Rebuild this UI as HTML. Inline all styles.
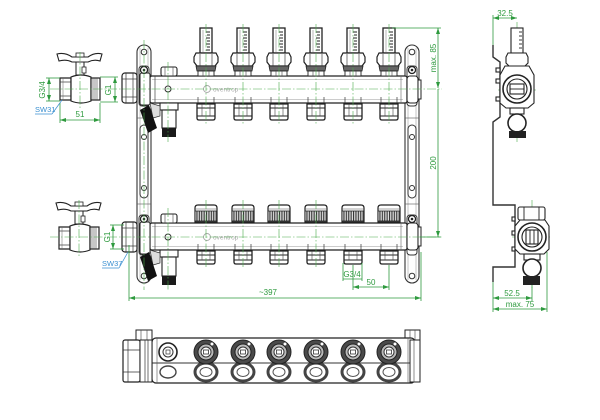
<!DOCTYPE html>
<html><head><meta charset="utf-8"><style>
html,body{margin:0;padding:0;background:#fff;}
svg{display:block;}
text{font-family:"Liberation Sans",sans-serif;}
</style></head><body>
<svg width="600" height="420" viewBox="0 0 600 420" xmlns="http://www.w3.org/2000/svg">
<defs>
<marker id="ar" viewBox="0 0 6 4" refX="6" refY="2" markerWidth="6" markerHeight="4" markerUnits="userSpaceOnUse" orient="auto-start-reverse"><path d="M0,0 L6,2 L0,4 Z" fill="#2e9a3e"/></marker>
<pattern id="kn" width="2.4" height="20" patternUnits="userSpaceOnUse"><rect width="2.4" height="20" fill="#ddd"/><rect width="1.1" height="20" fill="#333"/></pattern>
<g id="fm">
 <rect x="-6" y="28" width="12" height="25" fill="#fff" stroke="#222" stroke-width="1.3"/>
 <g stroke="#222" stroke-width="1"><line x1="0" y1="32" x2="4" y2="32"/><line x1="1" y1="35" x2="4" y2="35"/><line x1="0" y1="38" x2="4" y2="38"/><line x1="1" y1="41" x2="4" y2="41"/><line x1="0" y1="44" x2="4" y2="44"/><line x1="1" y1="47" x2="4" y2="47"/><line x1="0" y1="50" x2="4" y2="50"/></g>
 <line x1="-3" y1="30" x2="-3" y2="52" stroke="#888" stroke-width="0.6"/>
 <path d="M-12,57 L-10,53 L10,53 L12,57 L12,62 L9,66 L-9,66 L-12,62 Z" fill="#fff" stroke="#222" stroke-width="1.2"/>
 <line x1="-6" y1="54" x2="-6" y2="66" stroke="#444" stroke-width="0.7"/><line x1="6" y1="54" x2="6" y2="66" stroke="#444" stroke-width="0.7"/>
 <path d="M-10,66 L10,66 L9,71 L-9,71 Z" fill="#666" stroke="#222" stroke-width="0.8"/>
 <rect x="-8" y="71" width="16" height="5" fill="#fff" stroke="#222" stroke-width="0.9"/>
 <line x1="-3" y1="71" x2="-3" y2="76" stroke="#444" stroke-width="0.6"/><line x1="3" y1="71" x2="3" y2="76" stroke="#444" stroke-width="0.6"/>
</g>
<g id="outT">
 <line x1="-8" y1="97" x2="-8" y2="103" stroke="#333" stroke-width="0.7"/><line x1="8" y1="97" x2="8" y2="103" stroke="#333" stroke-width="0.7"/>
 <path d="M-9,104 L9,104 L9,118 Q9,120 7,120 L-7,120 Q-9,120 -9,118 Z" fill="#fff" stroke="#222" stroke-width="1.3"/>
 <line x1="-9" y1="108" x2="9" y2="108" stroke="#222" stroke-width="0.9"/>
 <line x1="-9" y1="116" x2="9" y2="116" stroke="#222" stroke-width="0.9"/>
 <line x1="-4" y1="104" x2="-4" y2="116" stroke="#444" stroke-width="0.6"/><line x1="4" y1="104" x2="4" y2="116" stroke="#444" stroke-width="0.6"/>
</g>
<g id="outB">
 <line x1="-8" y1="244" x2="-8" y2="250" stroke="#333" stroke-width="0.7"/><line x1="8" y1="244" x2="8" y2="250" stroke="#333" stroke-width="0.7"/>
 <path d="M-9,251 L9,251 L9,262 Q9,264 7,264 L-7,264 Q-9,264 -9,262 Z" fill="#fff" stroke="#222" stroke-width="1.3"/>
 <line x1="-9" y1="255" x2="9" y2="255" stroke="#222" stroke-width="0.9"/>
 <line x1="-9" y1="260" x2="9" y2="260" stroke="#222" stroke-width="0.9"/>
 <line x1="-4" y1="251" x2="-4" y2="260" stroke="#444" stroke-width="0.6"/><line x1="4" y1="251" x2="4" y2="260" stroke="#444" stroke-width="0.6"/>
</g>
<g id="cap">
 <path d="M-11,222 L-11,208 Q-11,205 -8,205 L8,205 Q11,205 11,208 L11,222 Z" fill="#fff" stroke="#222" stroke-width="1.2"/>
 <rect x="-11" y="211" width="22" height="10" fill="url(#kn)" stroke="#222" stroke-width="0.8"/>
 <line x1="-11" y1="209" x2="11" y2="209" stroke="#555" stroke-width="0.6"/>
</g>
<g id="kb">
 <ellipse cx="0" cy="20" rx="11" ry="9" fill="#fff" stroke="#444" stroke-width="3"/>
 <ellipse cx="0" cy="20" rx="6" ry="4.5" fill="#fff" stroke="#555" stroke-width="1"/>
 <circle cx="0" cy="0" r="12" fill="#4a4a4a" stroke="#222" stroke-width="1"/>
 <circle cx="0" cy="0" r="8" fill="#bbb" stroke="#222" stroke-width="1"/>
 <circle cx="0" cy="0" r="5" fill="#fff" stroke="#333" stroke-width="1"/>
 <rect x="-2.5" y="-2" width="5" height="4" fill="#fff" stroke="#333" stroke-width="0.8"/>
 <circle cx="6" cy="-8" r="1.5" fill="#fff"/>
</g>
<g id="brk">
 <rect x="0" y="45" width="14" height="238" rx="7" fill="#fff" stroke="#333" stroke-width="1.1"/>
 <line x1="3" y1="48" x2="3" y2="280" stroke="#888" stroke-width="0.5"/>
 <line x1="11" y1="48" x2="11" y2="280" stroke="#888" stroke-width="0.5"/>
 <circle cx="7" cy="52" r="2.8" fill="#fff" stroke="#333"/>
 <circle cx="7" cy="276" r="2.8" fill="#fff" stroke="#333"/>
 <rect x="3" y="125" width="8" height="73" rx="4" fill="#fff" stroke="#333"/>
 <circle cx="7" cy="137" r="2.5" fill="#fff" stroke="#333"/>
 <circle cx="7" cy="188" r="2.5" fill="#fff" stroke="#333"/>
 <line x1="0" y1="118" x2="14" y2="118" stroke="#555" stroke-width="0.6"/>
 <line x1="0" y1="204" x2="14" y2="204" stroke="#555" stroke-width="0.6"/>
 <rect x="2" y="66" width="10" height="40" rx="3" fill="#fff" stroke="#333"/>
 <circle cx="7" cy="70" r="3.5" fill="#fff" stroke="#222" stroke-width="1.2"/><circle cx="7" cy="70" r="1.3" fill="#222"/>
 <rect x="2" y="215" width="10" height="40" rx="3" fill="#fff" stroke="#333"/>
 <circle cx="7" cy="219" r="3.5" fill="#fff" stroke="#222" stroke-width="1.2"/><circle cx="7" cy="219" r="1.3" fill="#222"/>
</g>
<g id="valve">
 <path d="M57,1 Q65,-1 72,4 L88,4 Q95,-1 102,1 L100,8 Q94,6 88,9 L72,9 Q66,6 59,8 Z" fill="#fff" stroke="#222" stroke-width="1.1"/>
 <rect x="76" y="0" width="8" height="4" fill="#fff" stroke="#222" stroke-width="0.8"/>
 <rect x="76" y="9" width="8" height="13" fill="#fff" stroke="#222" stroke-width="1"/>
 <rect x="82" y="14" width="4" height="6" fill="#fff" stroke="#222" stroke-width="0.8"/>
 <path d="M60,25 L71,25 L71,47 L60,47 Z" fill="#fff" stroke="#222" stroke-width="1.2"/>
 <line x1="60" y1="29" x2="71" y2="29" stroke="#333" stroke-width="0.7"/><line x1="60" y1="43" x2="71" y2="43" stroke="#333" stroke-width="0.7"/>
 <line x1="63" y1="25" x2="63" y2="47" stroke="#666" stroke-width="0.5"/>
 <path d="M71,24 Q81,20 91,24 L91,48 Q81,52 71,48 Z" fill="#fff" stroke="#222" stroke-width="1.2"/>
 <rect x="91" y="25" width="9" height="22" fill="#fff" stroke="#222" stroke-width="1.2"/>
 <g stroke="#444" stroke-width="0.6"><line x1="93" y1="25" x2="93" y2="47"/><line x1="95" y1="25" x2="95" y2="47"/><line x1="97" y1="25" x2="97" y2="47"/></g>
</g>
</defs>

<!-- brackets -->
<use href="#brk" x="137"/>
<use href="#brk" x="405"/>

<!-- top manifold body -->
<rect x="150" y="76" width="257" height="27" rx="2" fill="#fff" stroke="#222" stroke-width="1.2"/>
<line x1="152" y1="79.5" x2="403" y2="79.5" stroke="#999" stroke-width="0.6"/>
<line x1="152" y1="99.5" x2="403" y2="99.5" stroke="#999" stroke-width="0.6"/>
<line x1="155" y1="76" x2="155" y2="103" stroke="#444" stroke-width="0.7"/>
<line x1="401" y1="76" x2="401" y2="103" stroke="#666" stroke-width="0.6"/>
<!-- bottom manifold body -->
<rect x="150" y="223" width="257" height="27" rx="2" fill="#fff" stroke="#222" stroke-width="1.2"/>
<line x1="152" y1="226.5" x2="403" y2="226.5" stroke="#999" stroke-width="0.6"/>
<line x1="152" y1="246.5" x2="403" y2="246.5" stroke="#999" stroke-width="0.6"/>
<line x1="155" y1="223" x2="155" y2="250" stroke="#444" stroke-width="0.7"/>
<line x1="401" y1="223" x2="401" y2="250" stroke="#666" stroke-width="0.6"/>

<!-- left clamp bands over bracket -->
<rect x="140" y="73" width="10" height="32" rx="2" fill="#fff" stroke="#222"/>
<rect x="140" y="222" width="10" height="32" rx="2" fill="#fff" stroke="#222"/>
<circle cx="144" cy="70" r="3.5" fill="#fff" stroke="#222" stroke-width="1.2"/><circle cx="144" cy="70" r="1.3" fill="#222"/>
<circle cx="144" cy="219" r="3.5" fill="#fff" stroke="#222" stroke-width="1.2"/><circle cx="144" cy="219" r="1.3" fill="#222"/>
<!-- right clamps -->
<rect x="407" y="76" width="11" height="27" rx="3" fill="#fff" stroke="#222" stroke-width="1.1"/>
<rect x="418" y="80" width="3" height="19" fill="#fff" stroke="#222"/>
<rect x="407" y="223" width="11" height="27" rx="3" fill="#fff" stroke="#222" stroke-width="1.1"/>
<rect x="418" y="227" width="3" height="19" fill="#fff" stroke="#222"/>
<circle cx="412" cy="70" r="3.5" fill="#fff" stroke="#222" stroke-width="1.2"/><circle cx="412" cy="70" r="1.3" fill="#222"/>
<circle cx="412" cy="219" r="3.5" fill="#fff" stroke="#222" stroke-width="1.2"/><circle cx="412" cy="219" r="1.3" fill="#222"/>

<!-- left union nuts -->
<g fill="#fff" stroke="#222" stroke-width="1.2">
<rect x="122" y="73" width="15" height="30" rx="3"/>
<rect x="122" y="222" width="15" height="30" rx="3"/>
</g>
<g stroke="#333" stroke-width="0.7">
<line x1="122" y1="79" x2="137" y2="79"/><line x1="122" y1="97" x2="137" y2="97"/><line x1="126" y1="73" x2="126" y2="103"/><line x1="133" y1="73" x2="133" y2="103"/>
<line x1="122" y1="228" x2="137" y2="228"/><line x1="122" y1="246" x2="137" y2="246"/><line x1="126" y1="222" x2="126" y2="252"/><line x1="133" y1="222" x2="133" y2="252"/>
</g>

<!-- vents / drains -->
<g fill="#fff" stroke="#222" stroke-width="1.1">
<rect x="161" y="67" width="16" height="9" rx="2"/>
<rect x="161" y="214" width="16" height="9" rx="2"/>
<rect x="160" y="103" width="18" height="7"/>
<rect x="162" y="110" width="14" height="18"/>
<rect x="160" y="250" width="18" height="7"/>
<rect x="162" y="257" width="14" height="19"/>
</g>
<rect x="162" y="128" width="14" height="9" fill="#1a1a1a"/>
<rect x="162" y="276" width="14" height="9" fill="#1a1a1a"/>
<g stroke="#444" stroke-width="0.6"><line x1="165" y1="67" x2="165" y2="76"/><line x1="173" y1="67" x2="173" y2="76"/><line x1="165" y1="214" x2="165" y2="223"/><line x1="173" y1="214" x2="173" y2="223"/></g>
<circle cx="168" cy="89" r="3" fill="#fff" stroke="#333"/>
<circle cx="168" cy="237" r="3" fill="#fff" stroke="#333"/>
<path d="M150,103 L160,106 L160,116 L153,118 Z" fill="#ddd" stroke="#333" stroke-width="0.7"/>
<path d="M150,250 L160,253 L160,263 L153,265 Z" fill="#ddd" stroke="#333" stroke-width="0.7"/>
<path d="M140,110 L149,105 L157,128 L148,133 Z" fill="#111"/>
<path d="M140,257 L149,252 L157,276 L148,281 Z" fill="#111"/>

<!-- logos -->
<g fill="none" stroke="#aaa" stroke-width="0.9"><circle cx="207" cy="89" r="3.5"/><circle cx="207" cy="237" r="3.5"/></g>
<text x="213" y="91.5" font-size="6.5" fill="#aaa">oventrop</text>
<text x="213" y="239.5" font-size="6.5" fill="#aaa">oventrop</text>

<!-- flow meters, outlets, caps -->
<use href="#fm" x="206"/><use href="#fm" x="243"/><use href="#fm" x="279"/><use href="#fm" x="316"/><use href="#fm" x="353"/><use href="#fm" x="389"/>
<use href="#outT" x="206"/><use href="#outT" x="243"/><use href="#outT" x="279"/><use href="#outT" x="316"/><use href="#outT" x="353"/><use href="#outT" x="389"/>
<use href="#cap" x="206"/><use href="#cap" x="243"/><use href="#cap" x="279"/><use href="#cap" x="316"/><use href="#cap" x="353"/><use href="#cap" x="389"/>
<use href="#outB" x="206"/><use href="#outB" x="243"/><use href="#outB" x="279"/><use href="#outB" x="316"/><use href="#outB" x="353"/><use href="#outB" x="389"/>

<!-- left valves -->
<use href="#valve" y="53"/>
<use href="#valve" x="-1" y="202"/>

<!-- green center lines -->
<g stroke="#4cae4c" stroke-width="0.6" stroke-dasharray="9,2,1.5,2" fill="none">
<line x1="50" y1="89" x2="442" y2="89"/>
<line x1="50" y1="237" x2="442" y2="237"/>
<line x1="206" y1="24" x2="206" y2="124"/><line x1="243" y1="24" x2="243" y2="124"/><line x1="279" y1="24" x2="279" y2="124"/><line x1="316" y1="24" x2="316" y2="124"/><line x1="353" y1="24" x2="353" y2="124"/><line x1="389" y1="24" x2="389" y2="124"/>
<line x1="206" y1="200" x2="206" y2="268"/><line x1="243" y1="200" x2="243" y2="268"/><line x1="279" y1="200" x2="279" y2="268"/><line x1="316" y1="200" x2="316" y2="268"/>
<line x1="168" y1="62" x2="168" y2="142"/><line x1="168" y1="208" x2="168" y2="290"/>
<line x1="80" y1="52" x2="80" y2="108"/><line x1="79" y1="200" x2="79" y2="256"/>
<line x1="517" y1="22" x2="517" y2="142"/><line x1="498" y1="90" x2="537" y2="90"/>
<line x1="532" y1="200" x2="532" y2="288"/><line x1="512" y1="237" x2="552" y2="237"/>
<line x1="144" y1="40" x2="144" y2="290"/>
</g>

<!-- dimensions -->
<g stroke="#2e9a3e" stroke-width="0.8" fill="none">
<!-- left top valve -->
<line x1="49" y1="78" x2="49" y2="101" marker-start="url(#ar)" marker-end="url(#ar)"/>
<line x1="46" y1="78" x2="60" y2="78"/><line x1="46" y1="101" x2="60" y2="101"/>
<line x1="115" y1="77" x2="115" y2="102" marker-start="url(#ar)" marker-end="url(#ar)"/>
<line x1="100" y1="77" x2="118" y2="77"/><line x1="100" y1="102" x2="118" y2="102"/>
<line x1="60" y1="120" x2="100" y2="120" marker-start="url(#ar)" marker-end="url(#ar)"/>
<line x1="60" y1="103" x2="60" y2="123"/><line x1="100" y1="103" x2="100" y2="123"/>
<!-- bottom valve G1 -->
<line x1="113" y1="225" x2="113" y2="249" marker-start="url(#ar)" marker-end="url(#ar)"/>
<line x1="110" y1="225" x2="124" y2="225"/><line x1="110" y1="249" x2="124" y2="249"/>
<!-- ~397 -->
<line x1="129" y1="298" x2="421" y2="298" marker-start="url(#ar)" marker-end="url(#ar)"/>
<line x1="129" y1="245" x2="129" y2="301"/><line x1="421" y1="252" x2="421" y2="301"/>
<!-- max 85 / 200 -->
<line x1="438" y1="28" x2="438" y2="88" marker-start="url(#ar)" marker-end="url(#ar)"/>
<line x1="438" y1="89" x2="438" y2="237" marker-end="url(#ar)"/>
<line x1="392" y1="28" x2="441" y2="28"/>
<line x1="420" y1="237" x2="441" y2="237"/>
<!-- G3/4 and 50 -->
<line x1="343" y1="263" x2="343" y2="281"/><line x1="362" y1="263" x2="362" y2="281"/>
<line x1="343" y1="279" x2="362" y2="279"/>
<line x1="353" y1="265" x2="353" y2="290"/><line x1="389" y1="265" x2="389" y2="290"/>
<line x1="353" y1="287" x2="389" y2="287" marker-start="url(#ar)" marker-end="url(#ar)"/>
<!-- side view dims -->
<line x1="493" y1="18" x2="517" y2="18" marker-start="url(#ar)" marker-end="url(#ar)"/>
<line x1="493" y1="15" x2="493" y2="45"/>
<line x1="493" y1="282" x2="493" y2="312"/>
<line x1="532" y1="285" x2="532" y2="301"/>
<line x1="547" y1="252" x2="547" y2="312"/>
<line x1="493" y1="298" x2="532" y2="298" marker-start="url(#ar)" marker-end="url(#ar)"/>
<line x1="493" y1="309" x2="547" y2="309" marker-start="url(#ar)" marker-end="url(#ar)"/>
</g>
<g fill="#2e9a3e" font-size="8">
<text transform="translate(45,90) rotate(-90)" text-anchor="middle">G3/4</text>
<text transform="translate(111,90) rotate(-90)" text-anchor="middle">G1</text>
<text x="80" y="117" text-anchor="middle">51</text>
<text transform="translate(110,237) rotate(-90)" text-anchor="middle">G1</text>
<text x="268" y="295" text-anchor="middle">~397</text>
<text transform="translate(436,58) rotate(-90)" text-anchor="middle">max. 85</text>
<text transform="translate(436,163) rotate(-90)" text-anchor="middle">200</text>
<text x="352" y="277" text-anchor="middle">G3/4</text>
<text x="371" y="285" text-anchor="middle">50</text>
<text x="505" y="16" text-anchor="middle">32.5</text>
<text x="512" y="296" text-anchor="middle">52.5</text>
<text x="520" y="307" text-anchor="middle">max. 75</text>
</g>
<!-- SW labels -->
<g stroke="#3a8fd0" stroke-width="0.7" fill="none">
<line x1="35" y1="114" x2="52" y2="114"/><line x1="52" y1="114" x2="62" y2="100"/>
<line x1="102" y1="268" x2="119" y2="268"/><line x1="119" y1="268" x2="128" y2="252"/>
</g>
<g fill="#3a8fd0" font-size="7.5">
<text x="35" y="112">SW31</text>
<text x="102" y="266">SW37</text>
</g>

<!-- side view -->
<path d="M493,45 L493,57 L500,62 L500,117 L493,122 L493,205 L515,205 L515,267 L493,267 L493,282" fill="none" stroke="#333" stroke-width="1.4"/>
<g fill="#fff" stroke="#222" stroke-width="1.1">
<rect x="496" y="68" width="4" height="4"/><rect x="496" y="79" width="4" height="4"/><rect x="496" y="97" width="4" height="4"/>
<rect x="511" y="28" width="12" height="25"/>
<path d="M506,57 L508,53 L526,53 L528,57 L528,63 L524,67 L510,67 L506,63 Z"/>
<path d="M505,66 L529,66 L534,75 L534,103 L528,108 L506,108 L500,103 L500,75 Z"/>
<circle cx="517" cy="89" r="14" stroke-width="1.6"/>
<circle cx="517" cy="89" r="10"/>
<rect x="510" y="84" width="14" height="10"/>
<rect x="510" y="108" width="14" height="6"/>
<circle cx="517" cy="123" r="9" stroke-width="1.6"/>
</g>
<g stroke="#222" stroke-width="0.9"><line x1="519" y1="32" x2="522" y2="32"/><line x1="519" y1="36" x2="522" y2="36"/><line x1="519" y1="40" x2="522" y2="40"/><line x1="519" y1="44" x2="522" y2="44"/><line x1="519" y1="48" x2="522" y2="48"/><line x1="510" y1="89" x2="524" y2="89"/></g>
<rect x="509" y="131" width="17" height="7" fill="#222"/>

<g fill="#fff" stroke="#222" stroke-width="1.1">
<rect x="512" y="217" width="3" height="4"/><rect x="512" y="231" width="3" height="4"/><rect x="512" y="247" width="3" height="4"/>
<rect x="518" y="207" width="27" height="13" rx="2"/>
<path d="M520,220 L545,220 L549,226 L549,249 L544,254 L520,254 L515,249 L515,226 Z"/>
<circle cx="532" cy="237" r="14" stroke-width="1.6"/>
<circle cx="532" cy="237" r="10"/>
<rect x="526" y="230" width="12" height="14"/>
<rect x="524" y="254" width="16" height="6"/>
<circle cx="532" cy="268" r="9" stroke-width="1.6"/>
</g>
<g stroke="#222" stroke-width="0.9"><line x1="530" y1="230" x2="530" y2="244"/><line x1="534" y1="230" x2="534" y2="244"/><line x1="524" y1="207" x2="524" y2="220"/><line x1="539" y1="207" x2="539" y2="220"/></g>
<rect x="523" y="276" width="17" height="9" fill="#222"/>

<!-- bottom view -->
<rect x="136" y="330" width="16" height="11" fill="#fff" stroke="#222"/>
<rect x="405" y="330" width="15" height="11" fill="#fff" stroke="#222"/>
<g stroke="#444" stroke-width="0.6"><line x1="141" y1="330" x2="141" y2="341"/><line x1="147" y1="330" x2="147" y2="341"/><line x1="410" y1="330" x2="410" y2="341"/><line x1="415" y1="330" x2="415" y2="341"/></g>
<rect x="152" y="338" width="263" height="45" rx="4" fill="#fff" stroke="#222" stroke-width="1.2"/>
<line x1="152" y1="363" x2="415" y2="363" stroke="#333" stroke-width="1"/>
<line x1="157" y1="338" x2="157" y2="383" stroke="#555" stroke-width="0.6"/>
<line x1="408" y1="338" x2="408" y2="383" stroke="#555" stroke-width="0.6"/>
<rect x="123" y="340" width="17" height="42" rx="2" fill="#fff" stroke="#222" stroke-width="1.2"/>
<rect x="140" y="340" width="12" height="42" fill="#fff" stroke="#222"/>
<g stroke="#333" stroke-width="0.7"><line x1="123" y1="350" x2="140" y2="350"/><line x1="123" y1="372" x2="140" y2="372"/><line x1="128" y1="340" x2="128" y2="382"/><line x1="145" y1="340" x2="145" y2="382"/><line x1="148" y1="340" x2="148" y2="382"/></g>
<rect x="410" y="340" width="10" height="42" fill="#fff" stroke="#222"/>
<line x1="414" y1="340" x2="414" y2="382" stroke="#444" stroke-width="0.6"/>
<circle cx="168" cy="352" r="9" fill="#fff" stroke="#222" stroke-width="1.6"/>
<circle cx="168" cy="352" r="5" fill="#fff" stroke="#333"/>
<rect x="166" y="350" width="4" height="4" fill="#fff" stroke="#333" stroke-width="0.7"/>
<ellipse cx="168" cy="372" rx="8" ry="6" fill="#fff" stroke="#444" stroke-width="1.4"/>
<use href="#kb" x="206" y="352"/><use href="#kb" x="243" y="352"/><use href="#kb" x="279" y="352"/><use href="#kb" x="316" y="352"/><use href="#kb" x="353" y="352"/><use href="#kb" x="389" y="352"/>
</svg>
</body></html>
